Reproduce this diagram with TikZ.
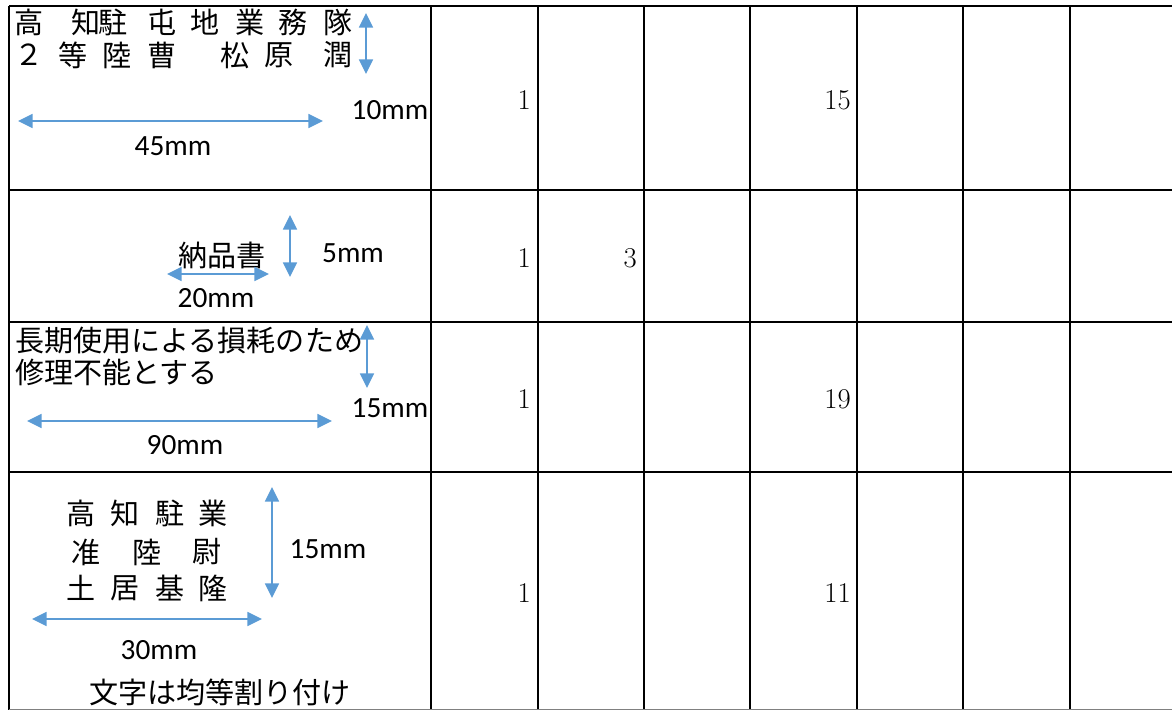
\documentclass[tikz,border=0pt]{standalone}
\usepackage{xcolor}
\usepackage{fontspec}
\setsansfont{Carlito}
\newfontfamily\jpfont{Noto Sans CJK JP}
\usepackage{tikz}
\usetikzlibrary{arrows.meta}

\definecolor{dimblue}{RGB}{91,155,213}
\tikzset{
	gridline/.style={line width=2.2pt, black},
	dimline/.style={draw=dimblue, line width=1.2pt, {Triangle[length=11pt, width=10.5pt]}-{Triangle[length=11pt, width=10.5pt]}},
	mmlabel/.style={font=\sffamily\fontsize{22}{26}\selectfont, inner sep=0pt},
	jptext/.style={font=\jpfont\fontsize{21.8}{26}\selectfont, inner sep=0pt},
	numcell/.style={font=\fontsize{21.5}{25}\selectfont, inner sep=0pt, anchor=east}
}

\begin{document}
\begin{tikzpicture}[x=0.75pt, y=-0.75pt]
					\useasboundingbox (0,0) rectangle (1172,710);
					
					\foreach \y in {6,190,322,472}
						\draw [gridline] (9,\y) -- (1172,\y);
					\foreach \x in {9,431,538,644,750,857,963,1070}
						\draw [gridline] (\x,6) -- (\x,710);
					\draw [gray, line width=0.6pt] (9,709) -- (1172,709);
					
					\foreach \x/\c [count=\i] in {29/高, 86/知, 113/駐, 162/屯, 205/地, 250/業, 293/務, 338/隊}
						\node [jptext] (unitA\i) at (\x,22) {\c};
					\foreach \x/\c [count=\i] in {29/２, 73/等, 117/陸, 162/曹, 235/松, 279/原, 338/潤}
						\node [jptext] (nameA\i) at (\x,55) {\c};
					\coordinate (hA1) at (366,13);
					\coordinate (hA2) at (366,74);
					\draw [dimline] (hA1) -- (hA2);
					\coordinate (wA1) at (18,121);
					\coordinate (wA2) at (323,121);
					\draw [dimline] (wA1) -- (wA2);
					\node [mmlabel] (hAlbl) at (390,110) {10mm};
					\node [mmlabel] (wAlbl) at (173,146) {45mm};
					
					\node [jptext] (delivery) at (222,255) {納品書};
					\coordinate (wB1) at (167,274);
					\coordinate (wB2) at (269,274);
					\draw [dimline] (wB1) -- (wB2);
					\coordinate (hB1) at (290,215);
					\coordinate (hB2) at (290,277);
					\draw [dimline] (hB1) -- (hB2);
					\node [mmlabel] (hBlbl) at (353,253) {5mm};
					\node [mmlabel] (wBlbl) at (216,298) {20mm};
					
					\node [jptext, anchor=west] (reasonA) at (15,340) {長期使用による損耗のため};
					\node [jptext, anchor=west] (reasonB) at (15,372) {修理不能とする};
					\coordinate (hC1) at (367,325);
					\coordinate (hC2) at (367,388);
					\draw [dimline] (hC1) -- (hC2);
					\coordinate (wC1) at (27,421);
					\coordinate (wC2) at (332,421);
					\draw [dimline] (wC1) -- (wC2);
					\node [mmlabel] (hClbl) at (390,408) {15mm};
					\node [mmlabel] (wClbl) at (185,445) {90mm};
					
					\foreach \x/\c [count=\i] in {81/高, 125/知, 170/駐, 213/業}
						\node [jptext] (unitD\i) at (\x,513) {\c};
					\foreach \x/\c [count=\i] in {86/准, 147/陸, 207/尉}
						\node [jptext] (rankD\i) at (\x,552) {\c};
					\foreach \x/\c [count=\i] in {81/土, 125/居, 170/基, 213/隆}
						\node [jptext] (nameD\i) at (\x,588) {\c};
					\coordinate (hD1) at (272,487);
					\coordinate (hD2) at (272,598);
					\draw [dimline] (hD1) -- (hD2);
					\coordinate (wD1) at (32,619);
					\coordinate (wD2) at (262,619);
					\draw [dimline] (wD1) -- (wD2);
					\node [mmlabel] (hDlbl) at (328,549) {15mm};
					\node [mmlabel] (wDlbl) at (159,650) {30mm};
					\node [jptext] (spacing) at (220,692) {文字は均等割り付け};
					
					\node [numcell] (qtyA) at (531,100) {1};
					\node [numcell] (valA) at (851,100) {15};
					\node [numcell] (qtyB) at (531,258) {1};
					\node [numcell] (cntB) at (637,258) {3};
					\node [numcell] (qtyC) at (531,399) {1};
					\node [numcell] (valC) at (851,399) {19};
					\node [numcell] (qtyD) at (531,593) {1};
					\node [numcell] (valD) at (851,593) {11};
\end{tikzpicture}
\end{document}
